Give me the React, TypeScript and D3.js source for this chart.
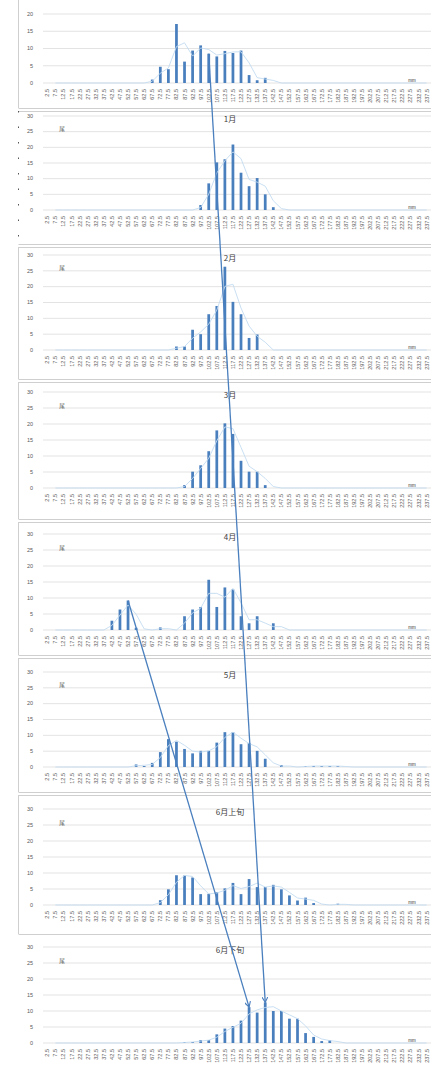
import React from "react";
import * as d3 from "d3";

const categories = [
  "2.5", "7.5", "12.5", "17.5", "22.5", "27.5", "32.5", "37.5", "42.5", "47.5",
  "52.5", "57.5", "62.5", "67.5", "72.5", "77.5", "82.5", "87.5", "92.5", "97.5",
  "102.5", "107.5", "112.5", "117.5", "122.5", "127.5", "132.5", "137.5", "142.5", "147.5",
  "152.5", "157.5", "162.5", "167.5", "172.5", "177.5", "182.5", "187.5", "192.5", "197.5",
  "202.5", "207.5", "212.5", "217.5", "222.5", "227.5", "232.5", "237.5",
];

const decValues = [
  0, 0, 0, 0, 0, 0, 0, 0, 0, 0, 0, 0, 0,
  1.0, 4.7, 4.0, 17.1, 6.2, 9.4, 10.9, 8.5, 7.7, 9.3, 8.7, 9.4, 2.3, 0.8, 1.5,
  0, 0, 0, 0, 0, 0, 0, 0, 0, 0, 0, 0, 0, 0, 0, 0, 0, 0, 0, 0,
];
const janValues = [
  0, 0, 0, 0, 0, 0, 0, 0, 0, 0, 0, 0, 0, 0, 0, 0, 0, 0, 0,
  1.6, 8.5, 15.2, 16.2, 20.9, 11.9, 7.6, 10.2, 5.0, 0.9,
  0, 0, 0, 0, 0, 0, 0, 0, 0, 0, 0, 0, 0, 0, 0, 0, 0, 0, 0,
];
const febValues = [
  0, 0, 0, 0, 0, 0, 0, 0, 0, 0, 0, 0, 0, 0, 0, 0,
  1.1, 1.1, 6.4, 5.0, 11.3, 13.9, 26.3, 15.2, 11.3, 3.8, 4.9,
  0, 0, 0, 0, 0, 0, 0, 0, 0, 0, 0, 0, 0, 0, 0, 0, 0, 0, 0, 0, 0,
];
const marValues = [
  0, 0, 0, 0, 0, 0, 0, 0, 0, 0, 0, 0, 0, 0, 0, 0, 0,
  0.9, 5.1, 7.1, 11.5, 18.0, 20.2, 16.9, 8.5, 5.1, 5.1, 0.9,
  0, 0, 0, 0, 0, 0, 0, 0, 0, 0, 0, 0, 0, 0, 0, 0, 0, 0, 0, 0,
];
const aprValues = [
  0, 0, 0, 0, 0, 0, 0, 0,
  2.9, 6.4, 9.2, 0.7, 0, 0, 0.8, 0, 0, 4.3, 6.4, 7.2, 15.7, 7.2, 13.3, 12.7, 4.3, 2.1, 4.3, 0, 2.1,
  0, 0, 0, 0, 0, 0, 0, 0, 0, 0, 0, 0, 0, 0, 0, 0, 0, 0, 0,
];
const mayValues = [
  0, 0, 0, 0, 0, 0, 0, 0, 0, 0, 0,
  0.8, 0.3, 1.3, 4.7, 8.8, 8.0, 5.7, 4.3, 5.1, 5.1, 7.7, 11.0, 11.0, 7.2, 7.6, 5.1, 2.6, 0, 0.6, 0, 0,
  0.3, 0.3, 0.3, 0.3, 0.3,
  0, 0, 0, 0, 0, 0, 0, 0, 0, 0, 0,
];
const junEarlyValues = [
  0, 0, 0, 0, 0, 0, 0, 0, 0, 0, 0, 0, 0, 0,
  1.5, 4.9, 9.3, 9.2, 8.6, 3.4, 3.5, 4.0, 5.2, 6.9, 3.4, 8.1, 5.6, 5.6, 6.3, 4.9, 3.0, 1.4, 2.3, 0.6,
  0, 0, 0.4,
  0, 0, 0, 0, 0, 0, 0, 0, 0, 0, 0,
];
const junLateValues = [
  0, 0, 0, 0, 0, 0, 0, 0, 0, 0, 0, 0, 0, 0, 0, 0, 0,
  0.3, 0.3, 0.9, 0.9, 2.7, 4.5, 5.3, 7.0, 11.2, 9.5, 12.7, 10.0, 10.0, 7.6, 7.6, 3.1, 1.9, 0.6, 0.9,
  0, 0, 0, 0, 0, 0, 0, 0, 0, 0, 0, 0,
];

const seriesList = [decValues, janValues, febValues, marValues, aprValues, mayValues, junEarlyValues, junLateValues];
const titles = ["", "1月", "2月", "3月", "4月", "5月", "6月上旬", "6月下旬"];
const yMaxes = [20, 30, 30, 30, 30, 30, 30, 30];
const yTicksSmall = [0, 5, 10, 15, 20];
const yTicksLarge = [0, 5, 10, 15, 20, 25, 30];
const unitLabel = "尾";
const lengthUnit = "mm";
// arrows: [panel, category] -> [panel, category]
const arrowLinks = [
  { from: [0, 20], to: [7, 27] },
  { from: [4, 10], to: [7, 25] },
];

const layout = [
  { zero: 83, top: 14, box: [-10, 108] },
  { zero: 210, top: 116, box: [111, 244] },
  { zero: 350, top: 255, box: [247, 379] },
  { zero: 488, top: 392, box: [382, 519] },
  { zero: 630, top: 534, box: [522, 655] },
  { zero: 767, top: 672, box: [658, 792] },
  { zero: 905, top: 809, box: [795, 934] },
  { zero: 1043, top: 947, box: null as null | number[] },
];

const W = 431;
const H = 1070;
const BAR = "#4a7fbe";
const TREND = "#c3dbf0";
const GRID = "#dcdcdc";
const TXT = "#595959";
const FONT = "'Liberation Sans', Arial, sans-serif";
const CJK = "'Noto Sans CJK SC', 'Noto Sans CJK JP', sans-serif";

export default function App() {
  const x = d3
    .scaleBand<string>()
    .domain(categories)
    .range([43.3, 43.3 + categories.length * 8.07])
    .paddingInner(0.66)
    .paddingOuter(0.33);
  const cx = (i: number) => (x(categories[i]) as number) + x.bandwidth() / 2;

  const yScales = layout.map((l, p) =>
    d3.scaleLinear().domain([0, yMaxes[p]]).range([l.zero, l.top])
  );

  const line = d3.line<[number, number]>().x((d) => d[0]).y((d) => d[1]);

  return (
    <svg
      width={W}
      height={H}
      style={{ position: "absolute", left: 0, top: 0, background: "#fff", overflow: "hidden" }}
    >
      <defs>
        <marker id="arr" viewBox="0 0 6 6" refX="5.5" refY="3" markerWidth="6" markerHeight="6" orient="auto" markerUnits="userSpaceOnUse">
          <path d="M0,0 L5.5,3 L0,6" fill="none" stroke={BAR} strokeWidth={1.1} />
        </marker>
      </defs>
      <rect x={0} y={0} width={W} height={H} fill="#fff" />
      {layout.map((l, p) => {
        const y = yScales[p];
        const vals = seriesList[p];
        const ticks = p === 0 ? yTicksSmall : yTicksLarge;
        const trendPts: [number, number][] = [];
        for (let i = 1; i < vals.length; i++) {
          trendPts.push([cx(i), y((vals[i - 1] + vals[i]) / 2)]);
        }
        return (
          <g key={p}>
            {l.box && (
              <g>
                <line x1={18.5} x2={W + 5} y1={l.box[0] + 0.5} y2={l.box[0] + 0.5} stroke="#cfcfcf" />
                <line x1={18.5} x2={W + 5} y1={l.box[1] + 0.5} y2={l.box[1] + 0.5} stroke="#cfcfcf" />
                <line
                  x1={18.5}
                  x2={18.5}
                  y1={l.box[0]}
                  y2={l.box[1]}
                  stroke={p === 1 ? "#555" : "#cfcfcf"}
                  strokeDasharray={p === 1 ? "1.5 14" : undefined}
                />
              </g>
            )}
            {ticks.map((t) => (
              <g key={t}>
                <line x1={43} x2={W} y1={y(t)} y2={y(t)} stroke={GRID} strokeWidth={0.8} />
                <text x={33} y={y(t) + 1.8} fontSize={5.5} fill={TXT} textAnchor="end" fontFamily={FONT}>
                  {t}
                </text>
              </g>
            ))}
            {categories.map((c, i) => (
              <text
                key={c}
                transform={`translate(${cx(i) + 2},${l.zero + 6}) rotate(-90)`}
                fontSize={5.5}
                fill={TXT}
                textAnchor="end"
                fontFamily={FONT}
              >
                {c}
              </text>
            ))}
            {vals.map((v, i) =>
              v > 0 ? (
                <rect
                  key={i}
                  x={x(categories[i]) as number}
                  y={y(v)}
                  width={x.bandwidth()}
                  height={l.zero - y(v)}
                  fill={BAR}
                />
              ) : null
            )}
            <path d={line(trendPts) || ""} fill="none" stroke={TREND} strokeWidth={0.9} />
            {titles[p] && (
              <text x={230} y={l.top + 6} fontSize={8} fill="#404040" textAnchor="middle" fontFamily={CJK}>
                {titles[p]}
              </text>
            )}
            {p > 0 && (
              <text x={62} y={y(25) - 0.5} fontSize={5.5} fill={TXT} textAnchor="middle" fontFamily={CJK}>
                {unitLabel}
              </text>
            )}
            <text x={412} y={l.zero - 1} fontSize={4.5} fill="#333" textAnchor="middle" fontFamily={FONT}>
              {lengthUnit}
            </text>
          </g>
        );
      })}
      {arrowLinks.map((a, k) => {
        const [fp, fi] = a.from;
        const [tp, ti] = a.to;
        return (
          <line
            key={k}
            x1={cx(fi)}
            y1={yScales[fp](seriesList[fp][fi])}
            x2={cx(ti)}
            y2={yScales[tp](seriesList[tp][ti])}
            stroke={BAR}
            strokeWidth={1.3}
            markerEnd="url(#arr)"
          />
        );
      })}
    </svg>
  );
}
